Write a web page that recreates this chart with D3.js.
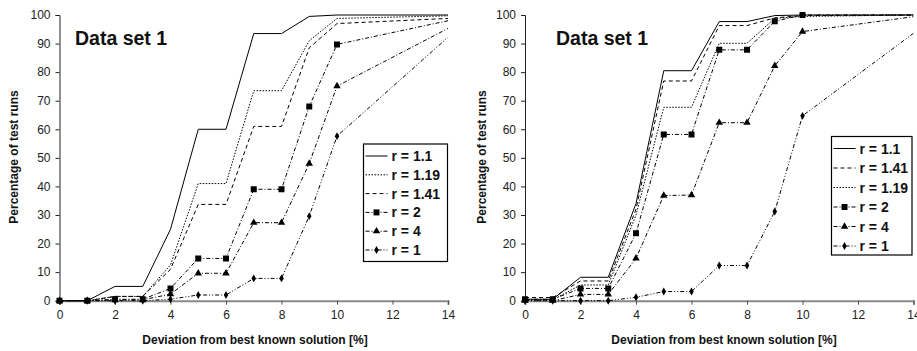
<!DOCTYPE html>
<html>
<head>
<meta charset="utf-8">
<script src="https://cdn.jsdelivr.net/npm/d3@7"></script>
<style>
  body { margin: 0; background: #fff; }
  svg { display: block; font-family: "Liberation Sans", Arial, sans-serif; }
</style>
</head>
<body>
<div id="chart"></div>
<script>
// deviation steps (%) shared by every series
const xValues = [0, 1, 2, 3, 4, 5, 6, 7, 8, 9, 10, 14]
const xTicks = [0, 2, 4, 6, 8, 10, 12, 14]
const yTicks = [0, 10, 20, 30, 40, 50, 60, 70, 80, 90, 100]

// left panel
const leftNames = ["r = 1.1", "r = 1.19", "r = 1.41", "r = 2", "r = 4", "r = 1"]
const leftR11  = [0, 0, 5, 5, 25, 60, 60, 93.5, 93.5, 99.5, 100, 100]
const leftR119 = [0, 0, 1.5, 1.5, 12.5, 41, 41, 73.5, 73.5, 91, 98.8, 99.7]
const leftR141 = [0, 0, 1.5, 1.5, 11, 33.7, 33.7, 61, 61, 88.5, 97, 98.8]
const leftR2   = [0, 0, 0.5, 0.5, 4.3, 14.8, 14.8, 39, 39, 68, 89.7, 98]
const leftR4   = [0, 0, 0.3, 0.3, 2.3, 9.6, 9.6, 27.3, 27.3, 48, 75.1, 95.3]
const leftR1   = [0, 0, 0, 0, 0.5, 2, 2, 7.8, 7.8, 29.6, 57.6, 92.2]

// right panel
const rightNames = ["r = 1.1", "r = 1.41", "r = 1.19", "r = 2", "r = 4", "r = 1"]
const rightR11  = [0.5, 0.5, 8.2, 8.2, 34, 80.5, 80.5, 97.7, 97.7, 99.8, 100, 100]
const rightR141 = [1.1, 1.1, 6.9, 6.9, 32, 76.9, 76.9, 96.3, 96.3, 99, 99.8, 100]
const rightR119 = [0.3, 0.3, 5.5, 5.5, 30, 67.7, 67.7, 90.1, 90.1, 98.8, 99.5, 100]
const rightR2   = [0.5, 0.5, 4.3, 4.3, 23.6, 58.2, 58.2, 87.8, 87.8, 97.8, 100, 100]
const rightR4   = [0, 0, 2.2, 2.2, 14.8, 36.8, 37, 62.3, 62.3, 82.2, 94.2, 99.4]
const rightR1   = [0, 0, 0, 0, 1.2, 3.2, 3.2, 12.3, 12.3, 31.2, 64.7, 93.6]

// line look per series name
const styles = {
  "r = 1.1":  { dash: null, marker: null },
  "r = 1.19": { dash: "1.5,1.5", marker: null },
  "r = 1.41": { dash: "4,3", marker: null },
  "r = 2":    { dash: "4,2,1,2", marker: d3.symbolSquare, size: 36 },
  "r = 4":    { dash: "4,2,1,2", marker: d3.symbolTriangle, size: 24 },
  "r = 1":    { dash: "4,2,1,2,1,2", marker: d3.symbolDiamond, size: 18 }
}

const svg = d3.select("#chart").append("svg")
  .attr("width", 917)
  .attr("height", 351)

class StepChart {
  constructor(_svg, _opts) {
    this.svg = _svg
    this.opts = _opts
    this.initVis()
  }

  initVis() {
    const vis = this
    const o = vis.opts

    vis.MARGIN = { LEFT: o.left, TOP: 15 }
    vis.WIDTH = 388.5
    vis.HEIGHT = 285.7

    vis.g = vis.svg.append("g")
      .attr("transform", `translate(${vis.MARGIN.LEFT}, ${vis.MARGIN.TOP})`)

    vis.x = d3.scaleLinear().domain([0, 14]).range([0, vis.WIDTH])
    vis.y = d3.scaleLinear().domain([0, 100]).range([vis.HEIGHT, 0])

    vis.g.append("clipPath").attr("id", o.id + "-clip")
      .append("rect")
      .attr("x", -6).attr("y", -6)
      .attr("width", vis.WIDTH + 6).attr("height", vis.HEIGHT + 12)

    // axes
    const yAxis = d3.axisLeft(vis.y).tickValues(yTicks).tickSize(4).tickPadding(5)
    const xAxis = d3.axisBottom(vis.x).tickValues(xTicks).tickSize(4).tickPadding(6)

    const yG = vis.g.append("g").call(yAxis)
    yG.select(".domain").attr("stroke", "#222")
    yG.selectAll(".tick line").attr("stroke", "#222")
    yG.selectAll("text").attr("font-size", "12px").attr("fill", "#222")
      .attr("font-family", "Liberation Sans, Arial, sans-serif")

    const xG = vis.g.append("g").attr("transform", `translate(0, ${vis.HEIGHT})`).call(xAxis)
    xG.select(".domain").attr("stroke", "#888").attr("stroke-width", 2)
    xG.selectAll(".tick line").attr("stroke", "#555")
    xG.selectAll("text").attr("font-size", "12px").attr("fill", "#222")
      .attr("font-family", "Liberation Sans, Arial, sans-serif")

    // titles
    vis.svg.append("text")
      .attr("transform", `translate(${o.yTitleX}, 157) rotate(-90)`)
      .attr("text-anchor", "middle")
      .attr("dominant-baseline", "central")
      .attr("font-size", "12px").attr("font-weight", "bold").attr("fill", "#111")
      .text("Percentage of test runs")

    vis.svg.append("text")
      .attr("x", o.xTitleX).attr("y", 344)
      .attr("text-anchor", "middle")
      .attr("font-size", "12px").attr("font-weight", "bold").attr("fill", "#111")
      .text("Deviation from best known solution [%]")

    vis.svg.append("text")
      .attr("x", o.titleX).attr("y", 45)
      .attr("font-size", "19.5px").attr("font-weight", "bold").attr("fill", "#111")
      .text("Data set 1")

    vis.updateVis()
  }

  updateVis() {
    const vis = this
    const o = vis.opts

    const line = d3.line()
      .x((d, i) => vis.x(xValues[i]))
      .y(d => vis.y(d))

    const plot = vis.g.append("g").attr("clip-path", `url(#${o.id}-clip)`)

    // draw back to front so the solid line sits on top
    o.series.slice().reverse().forEach(s => {
      const st = styles[s.name]
      plot.append("path")
        .attr("d", line(s.values))
        .attr("fill", "none")
        .attr("stroke", "#000")
        .attr("stroke-width", 1)
        .attr("stroke-dasharray", st.dash)

      if (st.marker) {
        plot.selectAll(null)
          .data(s.values.map((v, i) => [xValues[i], v]).filter(d => d[0] < 14))
          .enter().append("path")
          .attr("transform", d => `translate(${vis.x(d[0])}, ${vis.y(d[1])})`)
          .attr("d", d3.symbol().type(st.marker).size(st.size))
          .attr("fill", "#000")
      }
    })

    // legend
    const lg = vis.svg.append("g")
      .attr("transform", `translate(${o.legend.x}, ${o.legend.y})`)

    lg.append("rect")
      .attr("width", o.legend.w).attr("height", o.legend.h)
      .attr("fill", "#fff").attr("stroke", "#000").attr("stroke-width", 1.2)

    const rows = lg.selectAll("g.row")
      .data(o.series)
      .enter().append("g")
      .attr("class", "row")
      .attr("transform", (d, i) => `translate(0, ${12 + i * o.legend.step})`)

    rows.append("line")
      .attr("x1", 2).attr("x2", 24)
      .attr("stroke", "#000")
      .attr("stroke-dasharray", d => styles[d.name].dash)

    rows.filter(d => styles[d.name].marker)
      .append("path")
      .attr("transform", "translate(13, 0)")
      .attr("d", d => d3.symbol().type(styles[d.name].marker).size(styles[d.name].size)())
      .attr("fill", "#000")

    rows.append("text")
      .attr("x", 28)
      .attr("dy", "0.36em")
      .attr("font-size", "14px").attr("font-weight", "bold").attr("fill", "#111")
      .text(d => d.name)
  }
}

const leftValues = [leftR11, leftR119, leftR141, leftR2, leftR4, leftR1]
const rightValues = [rightR11, rightR141, rightR119, rightR2, rightR4, rightR1]

new StepChart(svg, {
  id: "left",
  left: 59.5,
  yTitleX: 14,
  xTitleX: 255,
  titleX: 75,
  legend: { x: 363.5, y: 144, w: 84, h: 117.5, step: 18.8 },
  series: leftNames.map((n, i) => ({ name: n, values: leftValues[i] }))
})

new StepChart(svg, {
  id: "right",
  left: 525,
  yTitleX: 482,
  xTitleX: 724,
  titleX: 556,
  legend: { x: 831.5, y: 136.5, w: 80.5, h: 118.5, step: 19.5 },
  series: rightNames.map((n, i) => ({ name: n, values: rightValues[i] }))
})
</script>
</body>
</html>
